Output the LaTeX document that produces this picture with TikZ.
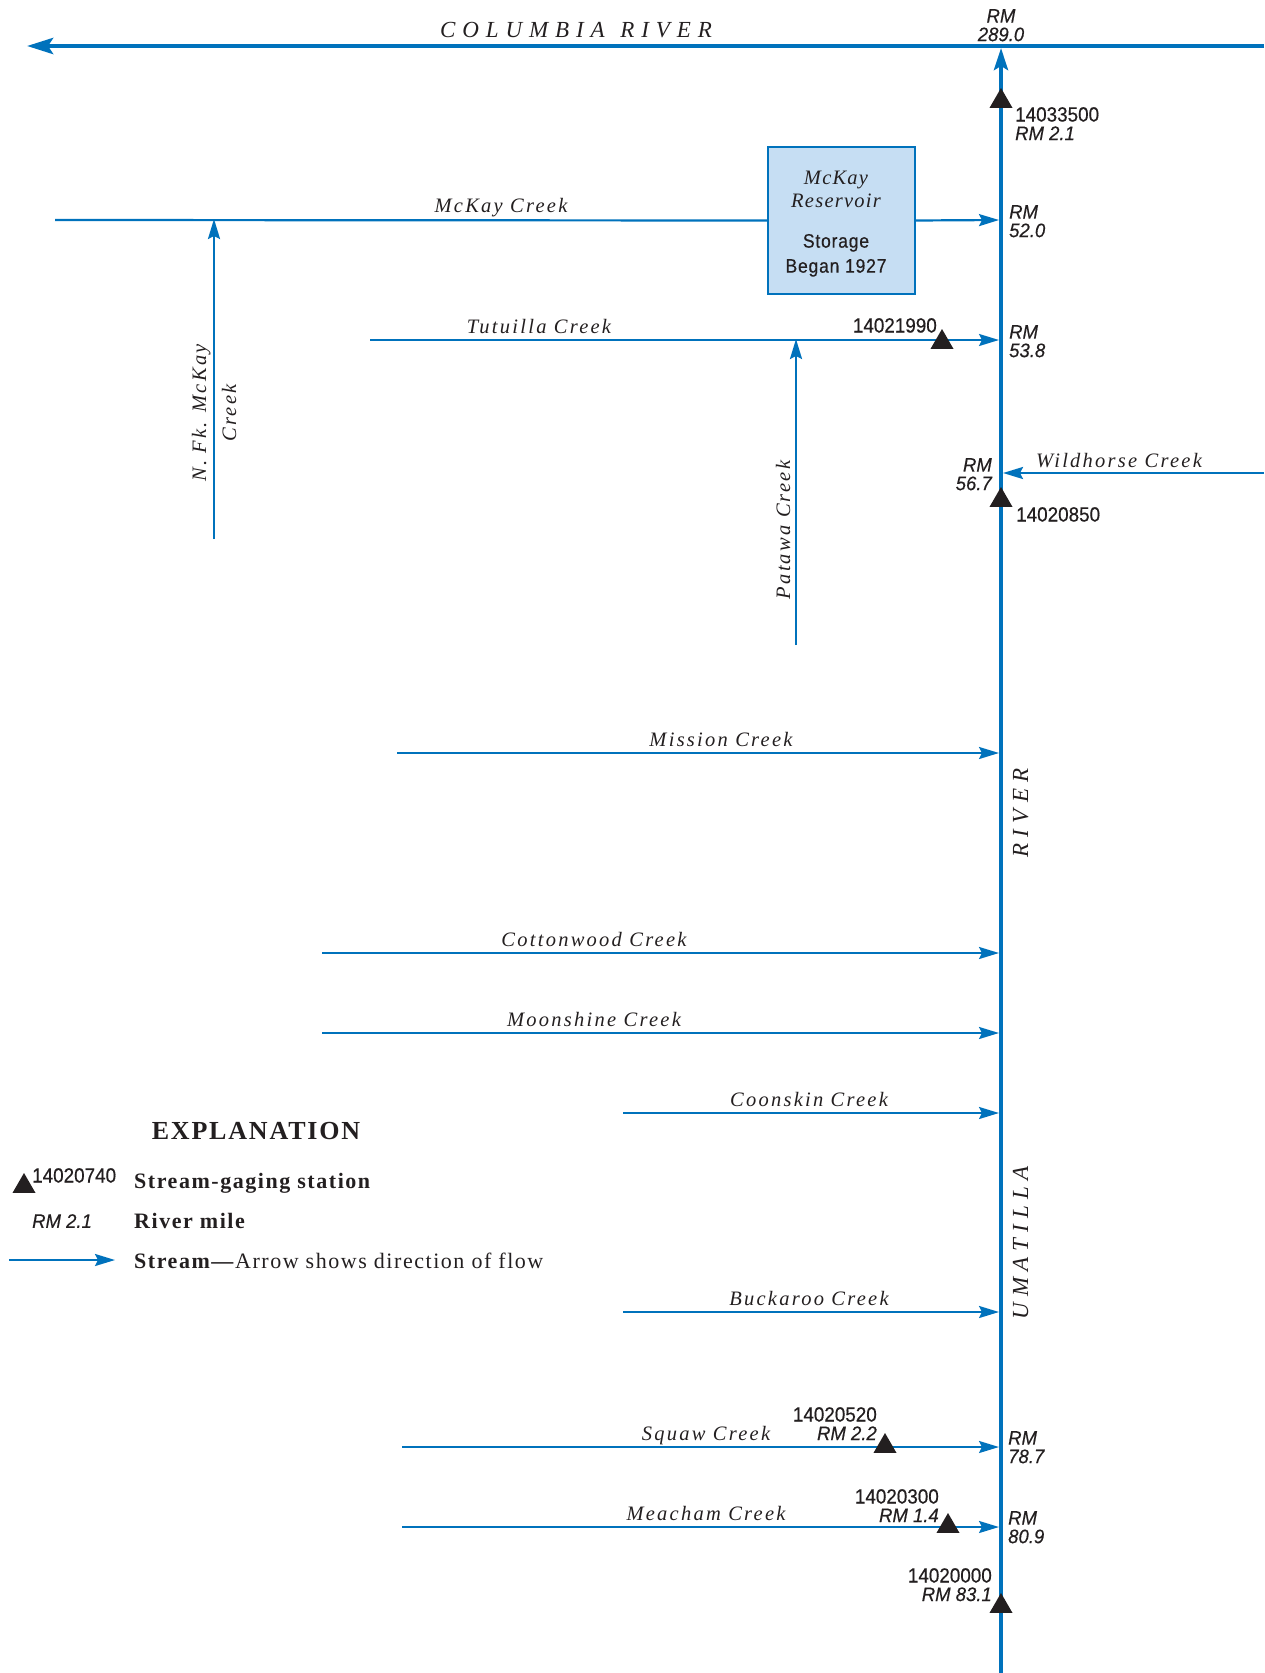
\documentclass[tikz,border=0pt]{standalone}
\usepackage{fontspec}
\setmainfont{Liberation Serif}
\newfontfamily\crkfont[LetterSpace=11]{Liberation Serif}
\newfontfamily\widefont[LetterSpace=30]{Liberation Serif}
\newfontfamily\vertfont[LetterSpace=27]{Liberation Serif}
\newfontfamily\resfont[LetterSpace=6]{Liberation Serif}
\newfontfamily\legfont[LetterSpace=7]{Liberation Serif}
\newfontfamily\numfont[FakeStretch=0.92,FakeBold=0.5]{Liberation Sans}
\newfontfamily\rmitfont[FakeStretch=0.95,FakeBold=0.4]{Liberation Sans}
\newfontfamily\boxsans[FakeStretch=0.9,LetterSpace=4,FakeBold=0.5]{Liberation Sans}
\usetikzlibrary{arrows.meta,shapes.geometric}
\definecolor{riv}{RGB}{0,114,188}
\definecolor{resv}{RGB}{198,222,243}
\definecolor{ink}{RGB}{35,31,32}
\begin{document}
\begin{tikzpicture}[x=1pt,y=-1pt,
  tribline/.style={draw=riv,line width=2.2pt},
  trib/.style={tribline,-{Stealth[length=20pt,width=12pt,inset=3pt]}},
  mainriv/.style={draw=riv,line width=4pt},
  gagemark/.style={regular polygon,regular polygon sides=3,fill=ink,minimum size=26.6pt,inner sep=0pt,outer sep=0pt},
  crklbl/.style={font=\fontsize{20.5}{22}\selectfont\crkfont\itshape,inner sep=0pt,anchor=base,text=ink},
  bigcaps/.style={font=\fontsize{23}{24}\selectfont\widefont\itshape,inner sep=0pt,anchor=base,text=ink},
  vertcaps/.style={font=\fontsize{23}{24}\selectfont\vertfont\itshape,inner sep=0pt,anchor=base,text=ink,rotate=90},
  rmlbl/.style={font=\fontsize{19.5}{18.5}\selectfont\rmitfont\itshape,inner sep=0pt,text=ink},
  gnum/.style={font=\fontsize{20.5}{18.5}\selectfont\numfont,inner sep=0pt,text=ink},
  leglbl/.style={font=\fontsize{22}{24}\selectfont\legfont,inner sep=0pt,anchor=base west,text=ink},
]
\useasboundingbox (0,0) rectangle (1264,1673);

% ---------- named points ----------
\coordinate (colE) at (1264,46);
\coordinate (colW) at (27,46);
\coordinate (umaS) at (1001,1673);
\coordinate (umaN) at (1001,48);

\coordinate (mckW) at (55,220);
\coordinate (j52) at (999,220);
\coordinate (nfkS) at (214,539);
\coordinate (nfkJ) at (214,219);
\coordinate (tutW) at (370,340);
\coordinate (j538) at (999,340);
\coordinate (patS) at (796,645);
\coordinate (patJ) at (796,339);
\coordinate (wildE) at (1264,473);
\coordinate (j567) at (1003,473);
\coordinate (misW) at (397,753);
\coordinate (jmis) at (999,753);
\coordinate (cotW) at (322,953);
\coordinate (jcot) at (999,953);
\coordinate (mooW) at (322,1033);
\coordinate (jmoo) at (999,1033);
\coordinate (cooW) at (623,1113);
\coordinate (jcoo) at (999,1113);
\coordinate (bucW) at (623,1312);
\coordinate (jbuc) at (999,1312);
\coordinate (sqW) at (402,1447);
\coordinate (j787) at (999,1447);
\coordinate (meaW) at (402,1527);
\coordinate (j809) at (999,1527);
\coordinate (legW) at (9,1260);
\coordinate (legE) at (115,1260);

% ---------- reservoir ----------
\node[draw=riv,fill=resv,line width=1.4pt,minimum width=147pt,minimum height=147pt,inner sep=0pt] (res) at (841.5,220.5) {};
\node[inner sep=0pt,anchor=north,align=center,text=ink,font=\fontsize{20.5}{23}\selectfont] (restext) at (836,171)
  {{\resfont\itshape McKay}\\{\resfont\itshape Reservoir}\\[17pt]{\boxsans\fontsize{19.5}{23}\selectfont Storage}\\[2pt]{\boxsans\fontsize{19.5}{23}\selectfont Began 1927}};

% ---------- rivers ----------
\draw[mainriv,-{Stealth[length=26pt,width=16pt,inset=5pt]},line width=4.5pt] (colE) -- (colW);
\draw[mainriv,-{Stealth[length=22pt,width=14pt,inset=4pt]}] (umaS) -- (umaN);

\draw[tribline] (mckW) -- (res.west);
\draw[trib] (res.east) -- (j52);
\draw[trib] (nfkS) -- (nfkJ);
\draw[trib] (tutW) -- (j538);
\draw[trib] (patS) -- (patJ);
\draw[trib] (wildE) -- (j567);
\draw[trib] (misW) -- (jmis);
\draw[trib] (cotW) -- (jcot);
\draw[trib] (mooW) -- (jmoo);
\draw[trib] (cooW) -- (jcoo);
\draw[trib] (bucW) -- (jbuc);
\draw[trib] (sqW) -- (j787);
\draw[trib] (meaW) -- (j809);

% ---------- gaging stations ----------
\node[gagemark] (s14033500) at (1001,101.3) {};
\node[gagemark] (s14021990) at (942,342.3) {};
\node[gagemark] (s14020850) at (1001,500.3) {};
\node[gagemark] (s14020520) at (885,1446.3) {};
\node[gagemark] (s14020300) at (948,1526.3) {};
\node[gagemark] (s14020000) at (1001,1606.3) {};

% ---------- station and river-mile labels ----------
\node[rmlbl,anchor=north,align=center] (rm289) at (1001,9) {RM\\289.0};
\node[gnum,anchor=north west,align=left] (l14033500) at (1015,107) {14033500\\{\rmitfont\itshape\fontsize{19.5}{18.5}\selectfont RM 2.1}};
\node[rmlbl,anchor=north west,align=left] (rm52) at (1009,205) {RM\\52.0};
\node[gnum,anchor=north east] (l14021990) at (937,318) {14021990};
\node[rmlbl,anchor=north west,align=left] (rm538) at (1009,325) {RM\\53.8};
\node[rmlbl,anchor=north east,align=right] (rm567) at (992,458) {RM\\56.7};
\node[gnum,anchor=north west] (l14020850) at (1016,507) {14020850};
\node[gnum,anchor=north east,align=right] (l14020520) at (877,1407) {14020520\\{\rmitfont\itshape\fontsize{19.5}{18.5}\selectfont RM 2.2}};
\node[rmlbl,anchor=north west,align=left] (rm787) at (1008,1431) {RM\\78.7};
\node[gnum,anchor=north east,align=right] (l14020300) at (939,1489) {14020300\\{\rmitfont\itshape\fontsize{19.5}{18.5}\selectfont RM 1.4}};
\node[rmlbl,anchor=north west,align=left] (rm809) at (1008,1511) {RM\\80.9};
\node[gnum,anchor=north east,align=right] (l14020000) at (992,1568) {14020000\\{\rmitfont\itshape\fontsize{19.5}{18.5}\selectfont RM 83.1}};

% ---------- stream names ----------
\node[bigcaps] (colname) at (576,37) {COLUMBIA \hspace{3pt}RIVER};
\node[vertcaps] (rivname) at (1028,813) {RIVER};
\node[vertcaps] (umaname) at (1028,1243) {UMATILLA};
\node[crklbl] (mckname) at (501,212) {McKay Creek};
\node[crklbl,anchor=center,rotate=90,align=center,font=\fontsize{20.5}{30}\selectfont\crkfont\itshape] (nfkname) at (214,413) {N. Fk. McKay\\Creek};
\node[crklbl] (tutname) at (539,333) {Tutuilla Creek};
\node[crklbl,rotate=90] (patname) at (790,530) {Patawa Creek};
\node[crklbl] (wildname) at (1119,467) {Wildhorse Creek};
\node[crklbl] (misname) at (721,746) {Mission Creek};
\node[crklbl] (cotname) at (594,946) {Cottonwood Creek};
\node[crklbl] (mooname) at (594,1026) {Moonshine Creek};
\node[crklbl] (cooname) at (809,1106) {Coonskin Creek};
\node[crklbl] (bucname) at (809,1305) {Buckaroo Creek};
\node[crklbl] (sqname) at (706,1440) {Squaw Creek};
\node[crklbl] (meaname) at (706,1520) {Meacham Creek};

% ---------- explanation ----------
\node[leglbl,anchor=base,font=\fontsize{26}{27}\selectfont\legfont\bfseries] (expl) at (256,1139) {EXPLANATION};
\node[gagemark] (legtri) at (24,1186.3) {};
\node[gnum,anchor=north west] (leg14020740) at (32,1168) {14020740};
\node[leglbl,font=\fontsize{22}{24}\selectfont\legfont\bfseries] (legsta) at (134,1188) {Stream-gaging station};
\node[rmlbl,anchor=north west] (legrm) at (32,1214) {RM 2.1};
\node[leglbl,font=\fontsize{22}{24}\selectfont\legfont\bfseries] (legmile) at (134,1228) {River mile};
\draw[trib] (legW) -- (legE);
\node[leglbl] (legstream) at (134,1268) {\textbf{Stream—}Arrow shows direction of flow};
\end{tikzpicture}
\end{document}
